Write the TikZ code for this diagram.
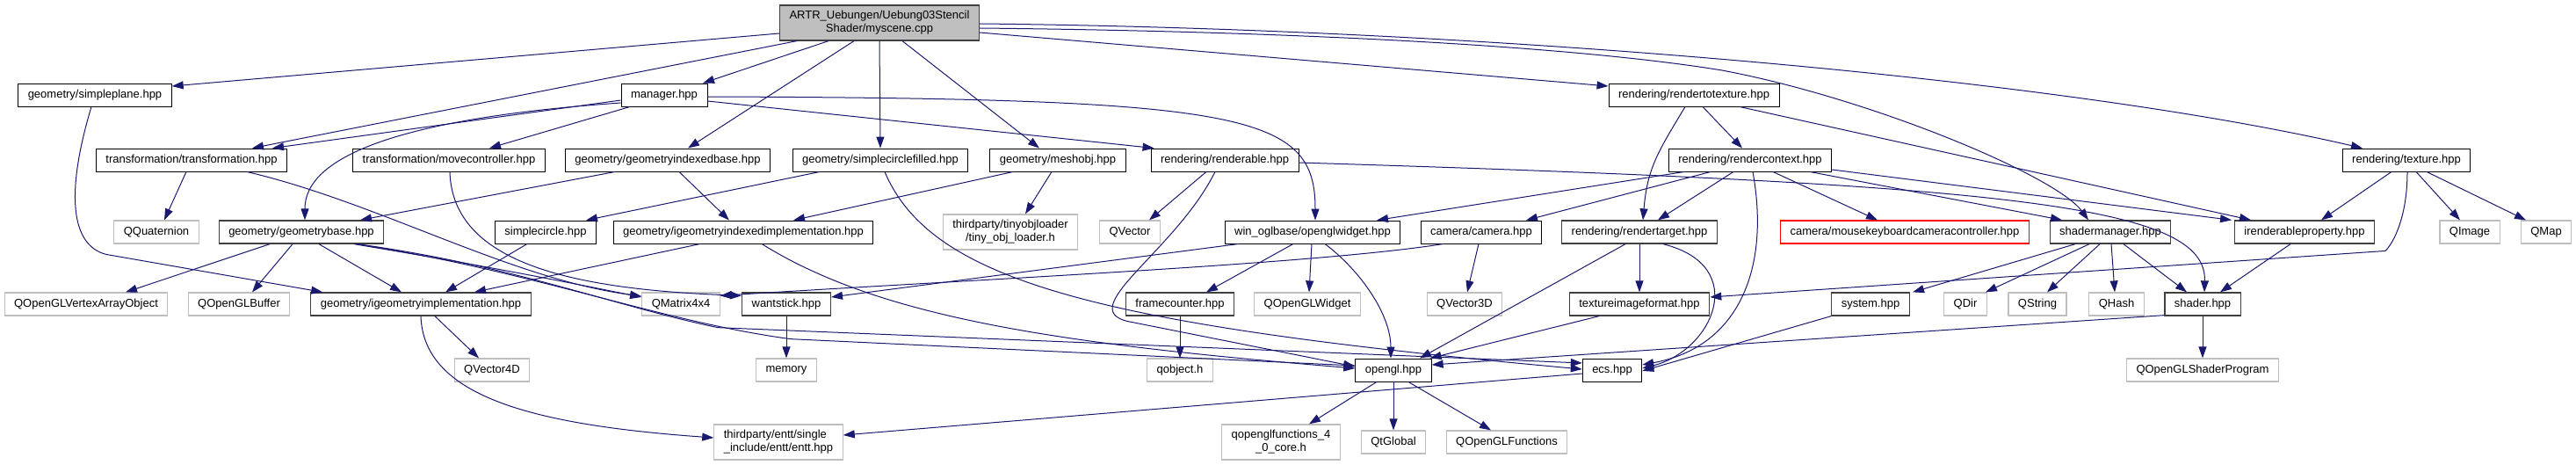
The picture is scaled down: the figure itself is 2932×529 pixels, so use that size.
\documentclass[tikz,border=0pt]{standalone}
\usepackage{fontspec}
\setmainfont{Liberation Sans}
\usetikzlibrary{arrows.meta, calc}
\definecolor{edgeblue}{RGB}{25,25,112}
\definecolor{extgrey}{HTML}{BFBFBF}
\definecolor{docgrey}{HTML}{404040}
\definecolor{truncred}{HTML}{FF0000}
\tikzset{
  hdr/.style={draw=black, fill=white, line width=0.9pt, font=\fontsize{13pt}{15pt}\selectfont,
              inner xsep=11pt, inner ysep=0pt, minimum height=26pt, align=center},
  hdrk/.style={hdr, draw=docgrey, line width=1.3pt},
  ext/.style={hdr, draw=extgrey, line width=1.2pt},
  trunc/.style={hdr, draw=truncred, line width=1.1pt},
  rootf/.style={hdr, fill=extgrey, draw=docgrey, line width=1.2pt, minimum height=40pt},
  twol/.style={minimum height=40pt},
  dep/.style={-{Triangle[length=13pt, width=9pt]}, line width=1pt, draw=edgeblue},
}

\begin{document}
\begin{tikzpicture}[x=1pt, y=-1pt]
    \useasboundingbox (0,0) rectangle (2932,529);
    % source file
    \node[rootf]  (root)   at (1001, 26) {ARTR\_Uebungen/Uebung03Stencil\\Shader/myscene.cpp};
    % level 1
    \node[hdr]    (splane) at (108, 108) {geometry/simpleplane.hpp};
    \node[hdr]    (mgr)    at (756, 108) {manager.hpp};
    \node[hdr]    (r2t)    at (1928,108) {rendering/rendertotexture.hpp};
    % level 2
    \node[hdr]    (trafo)  at (218, 182) {transformation/transformation.hpp};
    \node[hdr]    (movec)  at (511, 182) {transformation/movecontroller.hpp};
    \node[hdr]    (gibase) at (760, 182) {geometry/geometryindexedbase.hpp};
    \node[hdr]    (scfill) at (1002,182) {geometry/simplecirclefilled.hpp};
    \node[hdr]    (mesh)   at (1204,182) {geometry/meshobj.hpp};
    \node[hdr]    (rable)  at (1394,182) {rendering/renderable.hpp};
    \node[hdr]    (rctx)   at (1992,182) {rendering/rendercontext.hpp};
    \node[hdr]    (tex)    at (2739,182) {rendering/texture.hpp};
    % level 3
    \node[ext]    (qquat)  at (178, 264) {QQuaternion};
    \node[hdrk]   (gbase)  at (343, 264) {geometry/geometrybase.hpp};
    \node[hdr]    (scirc)  at (621, 264) {simplecircle.hpp};
    \node[hdr]    (giimpl) at (846, 264) {geometry/igeometryindexedimplementation.hpp};
    \node[ext, twol] (tinyobj) at (1150,264) {thirdparty/tinyobjloader\\/tiny\_obj\_loader.h};
    \node[ext]    (qvec)   at (1286,264) {QVector};
    \node[hdr]    (oglw)   at (1494,264) {win\_oglbase/openglwidget.hpp};
    \node[hdr]    (cam)    at (1686,264) {camera/camera.hpp};
    \node[hdrk]   (rtgt)   at (1866,264) {rendering/rendertarget.hpp};
    \node[trunc]  (mkcc)   at (2168,264) {camera/mousekeyboardcameracontroller.hpp};
    \node[hdrk]   (shmgr)  at (2402,264) {shadermanager.hpp};
    \node[hdrk]   (irprop) at (2623,264) {irenderableproperty.hpp};
    \node[ext]    (qimg)   at (2811,264) {QImage};
    \node[ext]    (qmap)   at (2898,264) {QMap};
    % level 4
    \node[ext]    (qvao)   at (98,  346) {QOpenGLVertexArrayObject};
    \node[ext]    (qbuf)   at (272, 346) {QOpenGLBuffer};
    \node[hdrk]   (gimpl)  at (479, 346) {geometry/igeometryimplementation.hpp};
    \node[ext]    (qmat)   at (775, 346) {QMatrix4x4};
    \node[hdrk]   (wstick) at (895, 346) {wantstick.hpp};
    \node[hdrk]   (fcnt)   at (1343,346) {framecounter.hpp};
    \node[ext]    (qoglw)  at (1488,346) {QOpenGLWidget};
    \node[ext]    (qv3d)   at (1667,346) {QVector3D};
    \node[hdrk]   (tifmt)  at (1866,346) {textureimageformat.hpp};
    \node[hdrk]   (sys)    at (2129,346) {system.hpp};
    \node[ext]    (qdir)   at (2237,346) {QDir};
    \node[ext]    (qstr)   at (2319,346) {QString};
    \node[ext]    (qhash)  at (2409,346) {QHash};
    \node[hdrk]   (shader) at (2507,346) {shader.hpp};
    % level 5
    \node[ext]    (qv4d)   at (560, 421) {QVector4D};
    \node[ext]    (mem)    at (895, 421) {memory};
    \node[ext]    (qobj)   at (1343,421) {qobject.h};
    \node[hdr]    (ogl)    at (1586,421) {opengl.hpp};
    \node[hdr]    (ecs)    at (1835,421) {ecs.hpp};
    \node[ext]    (qsprog) at (2507,421) {QOpenGLShaderProgram};
    % level 6
    \node[ext, twol, align=left] (entt) at (886,503) {thirdparty/entt/single\\\_include/entt/entt.hpp};
    \node[ext, twol] (qglf)  at (1458,503) {qopenglfunctions\_4\\\_0\_core.h};
    \node[ext]    (qtglob) at (1586,503) {QtGlobal};
    \node[ext]    (qglfun) at (1715,503) {QOpenGLFunctions};

    % from myscene.cpp
    \draw[dep] ($(root.west)+(0,12)$) -- ($(splane.east)+(0,-10)$);
    \draw[dep] ($(root.south)+(-94,0)$) -- ($(trafo.north)+(69,0)$);
    \draw[dep] ($(root.south)+(-58,0)$) -- ($(mgr.north)+(44,0)$);
    \draw[dep] ($(root.south)+(-29,0)$) -- ($(gibase.north)+(23,0)$);
    \draw[dep] (root.south) -- (scfill.north);
    \draw[dep] ($(root.south)+(26,0)$) -- ($(mesh.north)+(-21,0)$);
    \draw[dep] ($(root.east)+(0,11)$) -- ($(r2t.west)+(0,-10)$);
    \draw[dep] ($(root.east)+(0,6)$) .. controls +(385,4) and (1800,54) .. (1960,80)
               .. controls (2130,112) and (2340,200) .. ($(shmgr.north)+(-25,0)$);
    \draw[dep] ($(root.east)+(0,1)$) .. controls +(585,6) and (2350,90) .. ($(tex.north)+(-50,0)$);

    % manager.hpp
    \draw[dep] ($(mgr.west)+(0,6)$) -- ($(trafo.north)+(92,0)$);
    \draw[dep] ($(mgr.west)+(0,9)$) .. controls +(-257,18) and +(0,-71) .. ($(gbase.north)+(4,0)$);
    \draw[dep] ($(mgr.south)+(-39,0)$) -- ($(movec.north)+(46,0)$);
    \draw[dep] ($(mgr.east)+(0,7)$) -- ($(rable.north west)+(4,0)$);
    \draw[dep] ($(mgr.east)+(0,2)$) .. controls +(615,2) and +(0,-121) .. ($(oglw.north)+(3,0)$);

    % rendertotexture.hpp
    \draw[dep] ($(r2t.south)+(-10,0)$) .. controls +(-30,50) and +(5,-60) .. ($(rtgt.north)+(4,0)$);
    \draw[dep] ($(r2t.south)+(10,0)$) -- ($(rctx.north)+(-9,0)$);
    \draw[dep] ($(r2t.south)+(52,0)$) -- ($(irprop.north)+(-61,0)$);

    % rendercontext.hpp
    \draw[dep] ($(rctx.south)+(-75,0)$) -- ($(oglw.north)+(73,0)$);
    \draw[dep] ($(rctx.south)+(-45,0)$) -- ($(cam.north)+(51,0)$);
    \draw[dep] ($(rctx.south)+(-19,0)$) -- ($(rtgt.north)+(21,0)$);
    \draw[dep] ($(rctx.south)+(26,0)$) -- ($(mkcc.north)+(-31,0)$);
    \draw[dep] ($(rctx.south)+(68,0)$) -- ($(shmgr.north)+(-55,0)$);
    \draw[dep] ($(rctx.east)+(0,11)$) -- ($(irprop.north)+(-83,0)$);
    \draw[dep] ($(rctx.south)+(3,0)$) .. controls +(20,110) and +(110,-20) .. ($(ecs.east)+(0,-6)$);

    % texture.hpp
    \draw[dep] ($(tex.south)+(-17,0)$) -- ($(irprop.north)+(19,0)$);
    \draw[dep] ($(tex.south)+(1,0)$) .. controls +(0,50) and +(10,-10) .. +(-25,90) -- ($(tifmt.east)+(0,-8)$);
    \draw[dep] ($(tex.south)+(11,0)$) -- ($(qimg.north)+(-11,0)$);
    \draw[dep] ($(tex.south)+(23,0)$) -- ($(qmap.north)+(-23,0)$);

    % level 2 headers
    \draw[dep] ($(trafo.south)+(-6,0)$) -- ($(qquat.north)+(9,0)$);
    \draw[dep] ($(trafo.south)+(63,0)$) .. controls +(150,35) and +(-150,-20) .. ($(qmat.west)+(0,-9)$);
    \draw[dep] ($(movec.south)+(1,0)$) .. controls +(3,105) and +(-190,-7) .. ($(wstick.north west)+(0,4)$);
    \draw[dep] ($(gibase.south)+(-60,0)$) -- ($(gbase.north)+(67,0)$);
    \draw[dep] ($(gibase.south)+(13,0)$) -- ($(giimpl.north)+(-16,0)$);
    \draw[dep] ($(scfill.south)+(-69,0)$) -- ($(scirc.north)+(46,0)$);
    \draw[dep] ($(scfill.south)+(5,0)$) .. controls +(53,125) and +(-550,-50) .. ($(ecs.west)+(0,-1)$);
    \draw[dep] ($(mesh.south)+(-51,0)$) -- ($(giimpl.north)+(57,0)$);
    \draw[dep] ($(mesh.south)+(-7,0)$) -- ($(tinyobj.north)+(17,0)$);
    \draw[dep] ($(rable.south)+(-21,0)$) -- ($(qvec.north)+(22,0)$);
    \draw[dep] ($(rable.south)+(-11,0)$) .. controls +(-45,90) and +(-60,-15) .. +(-100,170) -- ($(ogl.west)+(0,-4)$);
    \draw[dep] ($(rable.east)+(0,3)$) .. controls +(818,25) and +(3,-98) .. ($(shader.north)+(2,0)$);

    % level 3 headers
    \draw[dep] ($(splane.south)+(-4,0)$) .. controls +(-30,100) and +(-40,-10) .. +(17,168) -- ($(gimpl.north west)+(14,0)$);
    \draw[dep] ($(gbase.south)+(-36,0)$) -- ($(qvao.north)+(45,0)$);
    \draw[dep] ($(gbase.south)+(-10,0)$) -- ($(qbuf.north)+(15,0)$);
    \draw[dep] ($(gbase.south)+(20,0)$) -- ($(gimpl.north)+(-22,0)$);
    \draw[dep] ($(gbase.south)+(60,0)$) .. controls +(150,25) and +(-100,-20) .. ($(qmat.west)+(0,-8)$);
    \draw[dep] ($(gbase.south)+(62,0)$) .. controls +(200,30) and +(-150,-20) .. +(495,108) -- ($(ogl.west)+(0,-5)$);
    \draw[dep] ($(gbase.south)+(64,0)$) .. controls +(180,25) and +(-120,-25) .. +(410,95) -- ($(ecs.west)+(0,-8)$);
    \draw[dep] ($(scirc.south)+(-21,0)$) -- ($(gimpl.north)+(28,0)$);
    \draw[dep] ($(giimpl.south)+(-49,0)$) -- ($(gimpl.north)+(61,0)$);
    \draw[dep] ($(giimpl.south)+(21,0)$) .. controls +(133,83) and +(-343,-28) .. ($(ogl.west)+(0,-2)$);
    \draw[dep] ($(oglw.south)+(-1,0)$) -- ($(qoglw.north)+(2,0)$);
    \draw[dep] ($(oglw.south)+(14,0)$) .. controls +(40,30) and +(0,-50) .. ($(ogl.north)+(-3,0)$);
    \draw[dep] ($(oglw.south)+(-22,0)$) -- ($(fcnt.north)+(30,0)$);
    \draw[dep] ($(oglw.south)+(-84,0)$) -- ($(wstick.east)+(0,-8)$);
    \draw[dep] ($(cam.south)+(-3,0)$) -- ($(qv3d.north)+(3,0)$);
    \draw[dep] ($(cam.south)+(-43,0)$) .. controls +(-143,23) and +(280,-18) .. ($(qmat.north east)+(0,4)$);
    \draw[dep] (rtgt.south) -- (tifmt.north);
    \draw[dep] ($(rtgt.south)+(-16,0)$) -- ($(ogl.north)+(30,0)$);
    \draw[dep] ($(rtgt.south)+(27,0)$) .. controls +(100,25) and +(80,-20) .. ($(ecs.east)+(0,-2)$);
    \draw[dep] ($(shmgr.south)+(-40,0)$) -- ($(sys.north)+(48,0)$);
    \draw[dep] ($(shmgr.south)+(-24,0)$) -- ($(qdir.north)+(23,0)$);
    \draw[dep] ($(shmgr.south)+(-12,0)$) -- ($(qstr.north)+(11,0)$);
    \draw[dep] ($(shmgr.south)+(1,0)$) -- ($(qhash.north)+(-2,0)$);
    \draw[dep] ($(shmgr.south)+(15,0)$) -- ($(shader.north)+(-18,0)$);
    \draw[dep] ($(irprop.south)+(-16,0)$) -- ($(shader.north)+(20,0)$);

    % level 4 headers
    \draw[dep] ($(gimpl.south)+(16,0)$) -- ($(qv4d.north)+(-15,0)$);
    \draw[dep] (gimpl.south) .. controls +(3,90) and +(-210,-15) .. ($(entt.west)+(0,-5)$);
    \draw[dep] (wstick.south) -- (mem.north);
    \draw[dep] (fcnt.south) -- (qobj.north);
    \draw[dep] ($(tifmt.south)+(-46,0)$) -- ($(ogl.north east)+(-2,0)$);
    \draw[dep] (sys.south west) -- ($(ecs.east)+(0,1)$);
    \draw[dep] ($(shader.south west)+(0,-1)$) -- ($(ogl.east)+(0,-6)$);
    \draw[dep] (shader.south) -- (qsprog.north);

    % level 5 headers
    \draw[dep] ($(ecs.west)+(0,4)$) -- ($(entt.east)+(0,-8)$);
    \draw[dep] ($(ogl.south)+(-19,0)$) -- ($(qglf.north)+(32,0)$);
    \draw[dep] (ogl.south) -- (qtglob.north);
    \draw[dep] ($(ogl.south)+(17,0)$) -- ($(qglfun.north)+(-18,0)$);
\end{tikzpicture}
\end{document}
